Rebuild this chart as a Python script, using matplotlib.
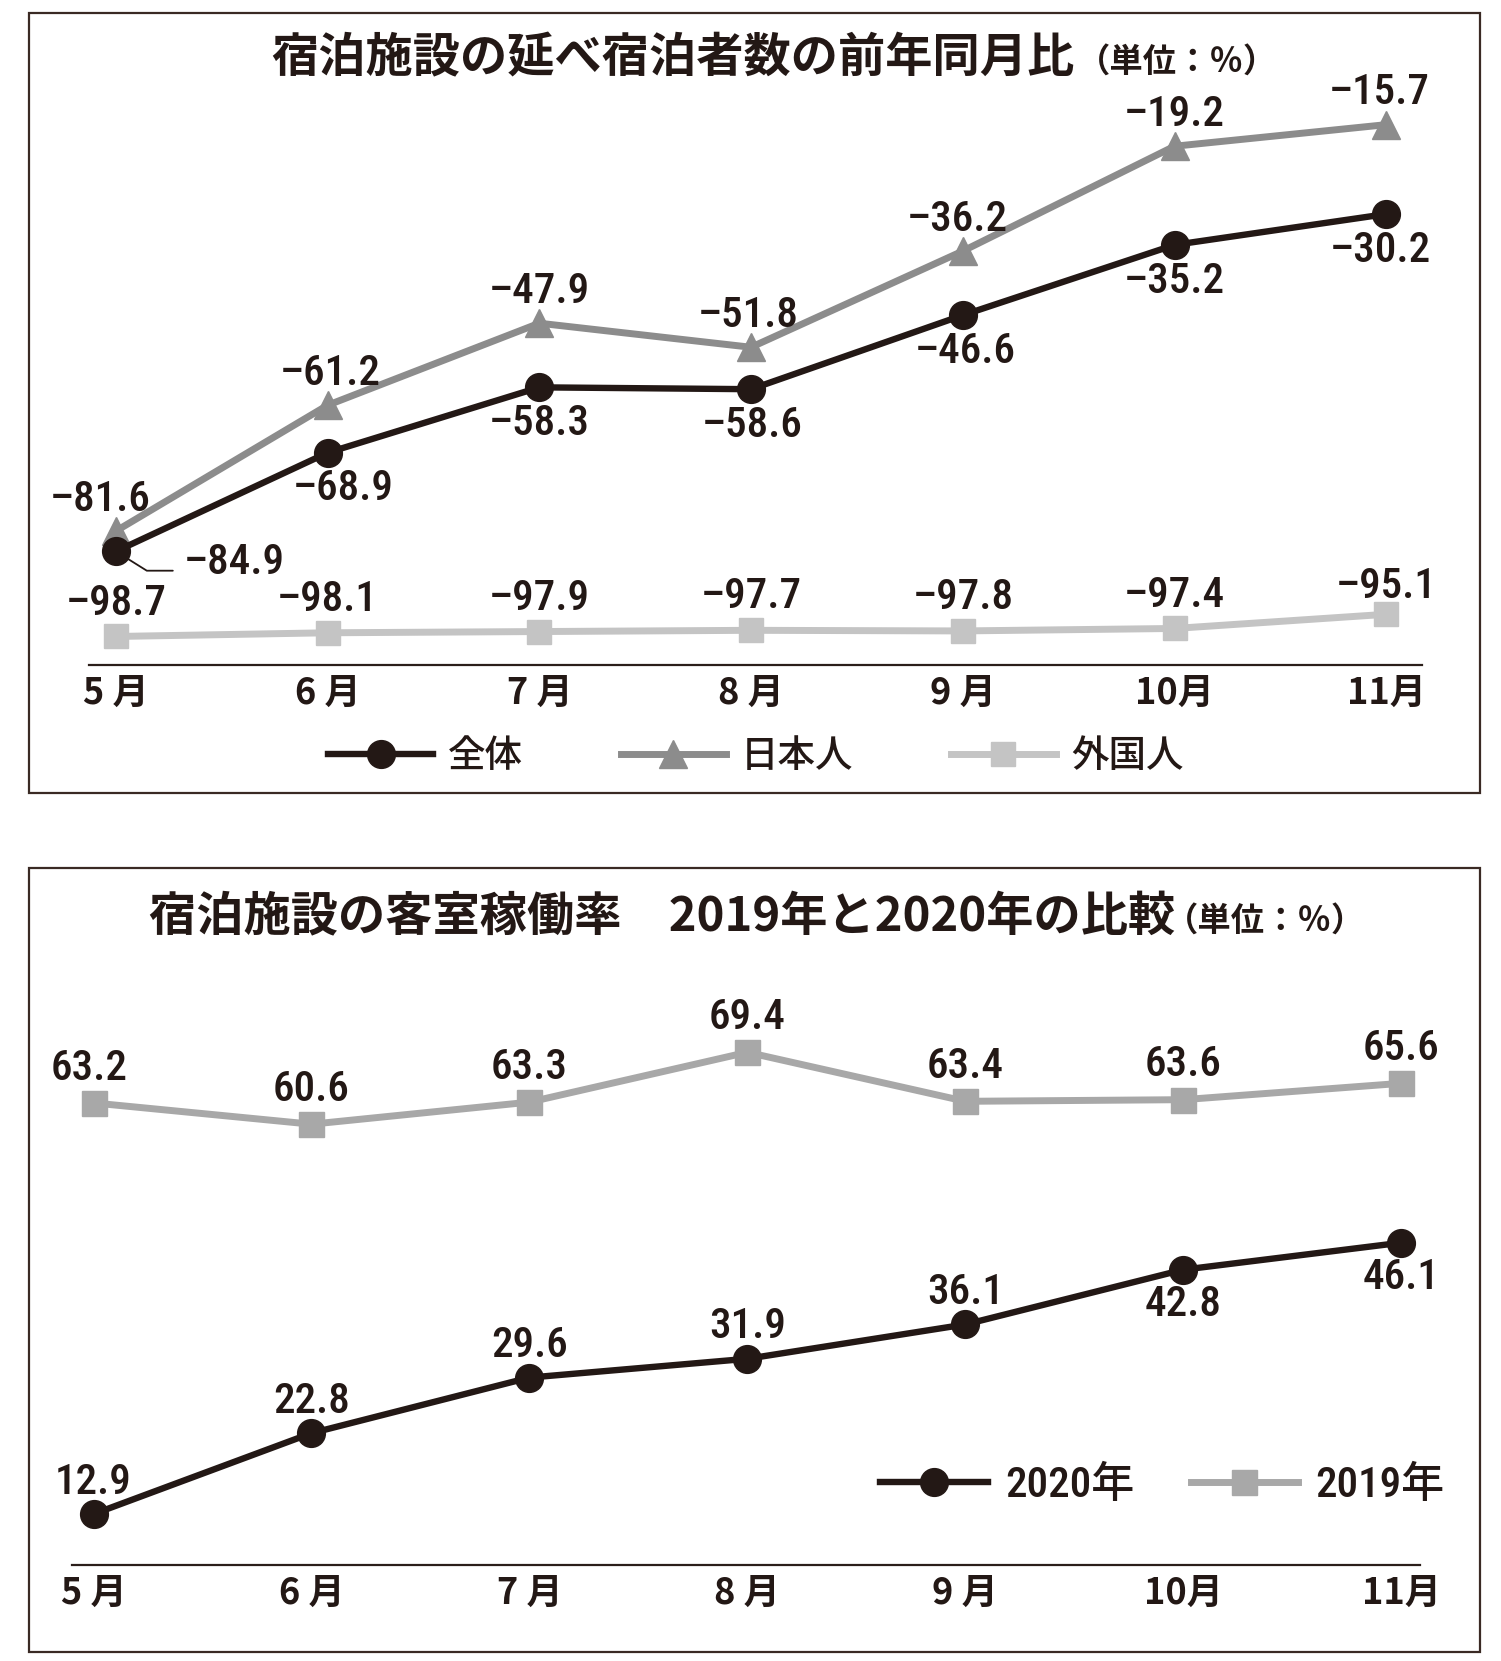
import matplotlib
matplotlib.use('Agg')
import matplotlib.pyplot as plt
from matplotlib.patches import Rectangle
from matplotlib import font_manager

months = ['5 月', '6 月', '7 月', '8 月', '9 月', '10月', '11月']

# 延べ宿泊者数の前年同月比 (%)
zentai = [-84.9, -68.9, -58.3, -58.6, -46.6, -35.2, -30.2]
nihonjin = [-81.6, -61.2, -47.9, -51.8, -36.2, -19.2, -15.7]
gaikokujin = [-98.7, -98.1, -97.9, -97.7, -97.8, -97.4, -95.1]

# 客室稼働率 (%)
occ_2020 = [12.9, 22.8, 29.6, 31.9, 36.1, 42.8, 46.1]
occ_2019 = [63.2, 60.6, 63.3, 69.4, 63.4, 63.6, 65.6]

ink = '#231815'
c_jp = '#8c8c8c'
c_fg = '#c4c4c4'
c_19 = '#a8a8a8'

# condensed face for the numbers, if one is around
names = {f.name for f in font_manager.fontManager.ttflist}
num_font, num_size = 'Liberation Sans', 28
for cand in ['Roboto Condensed', 'Archivo Narrow', 'Liberation Sans Narrow',
             'Asap Condensed', 'Barlow Semi Condensed']:
    if cand in names:
        num_font, num_size = cand, 31
        break
jp = 'Noto Sans CJK JP'
plt.rcParams['font.family'] = [jp, 'DejaVu Sans']
NUM = [num_font, 'DejaVu Sans']

W, H = 1410, 1560  # layout measured on the reference


def fx(x):
    return x / W


def fy(y):
    return 1 - y / H


fig = plt.figure(figsize=(15.01, 16.61), dpi=100)
fig.patch.set_facecolor('white')

# frames
for y0, y1 in [(12, 745), (815, 1552)]:
    fig.patches.append(Rectangle((fx(27), fy(y1)), fx(1390) - fx(27), fy(y0) - fy(y1),
                                 transform=fig.transFigure, fill=False,
                                 edgecolor='#3a2a24', linewidth=1.6))


def num(v):
    s = f'{abs(v):.1f}'
    return ('–' + s) if v < 0 else s


def label(ax, x, y, dx, dy):
    ax.annotate(num(y), (x, y), xytext=(dx, dy), textcoords='offset points',
                ha='center', va='center', fontsize=num_size, fontweight='medium',
                color=ink, family=NUM)


def style_axis(ax):
    for s in ['top', 'left', 'right']:
        ax.spines[s].set_visible(False)
    ax.spines['bottom'].set_color('#2b1e1a')
    ax.spines['bottom'].set_linewidth(1.6)
    ax.set_yticks([])
    ax.set_xticks(range(len(months)))
    ax.set_xticklabels(months, fontsize=26, fontweight='bold', color=ink)
    ax.tick_params(axis='x', length=0, pad=7)
    ax.patch.set_alpha(0)


# ---- top chart ----
ax1 = fig.add_axes([fx(84), fy(625), fx(1336) - fx(84), fy(80) - fy(625)])
x = range(len(months))
l_fg, = ax1.plot(x, gaikokujin, color=c_fg, lw=5, marker='s', ms=17, mec=c_fg, mfc=c_fg,
                 label='外国人')
l_jp, = ax1.plot(x, nihonjin, color=c_jp, lw=5, marker='^', ms=20, mec=c_jp, mfc=c_jp,
                 label='日本人')
l_all, = ax1.plot(x, zentai, color=ink, lw=4.6, marker='o', ms=20, mec=ink, mfc=ink,
                  label='全体')
ax1.set_xlim(-0.125, 6.17)
ax1.set_ylim(-103.4, -9.3)
style_axis(ax1)

jp_dx = [-11, 2, 0, -2, -4, 0, -5]
for i, v in enumerate(nihonjin):
    label(ax1, i, v, jp_dx[i], 23)
all_dx = [None, 11, 0, 1, 2, 0, -4]
for i, v in enumerate(zentai):
    if i == 0:
        ax1.annotate(num(v), (i, v), xytext=(49, -8), textcoords='offset points',
                     ha='left', va='center', fontsize=num_size, fontweight='medium',
                     color=ink, family=NUM,
                     arrowprops=dict(arrowstyle='-', color=ink, lw=1.3,
                                     connectionstyle='angle,angleA=0,angleB=-32,rad=0',
                                     relpos=(0, 0.3), shrinkA=6, shrinkB=8))
    else:
        label(ax1, i, v, all_dx[i], -26)
for i, v in enumerate(gaikokujin):
    label(ax1, i, v, 0, 20 if i == 6 else 24)

fig.legend(handles=[l_all, l_jp, l_fg], loc='center', bbox_to_anchor=(fx(710), fy(710)),
           ncol=3, frameon=False, handlelength=2.8, handletextpad=0.4,
           columnspacing=2.6, borderpad=0, labelcolor=ink,
           prop=dict(family=[jp], size=27, weight='medium'))

fig.text(fx(255), fy(55), '宿泊施設の延べ宿泊者数の前年同月比', fontsize=34,
         fontweight='bold', color=ink, ha='left', va='center')
fig.text(fx(1012), fy(58), '（単位：％）', fontsize=24, fontweight='bold',
         color=ink, ha='left', va='center')

# ---- bottom chart ----
ax2 = fig.add_axes([fx(68), fy(1470), fx(1334) - fx(68), fy(900) - fy(1470)])
l19, = ax2.plot(x, occ_2019, color=c_19, lw=5, marker='s', ms=18, mec=c_19, mfc=c_19,
                label='2019年')
l20, = ax2.plot(x, occ_2020, color=ink, lw=4.6, marker='o', ms=20, mec=ink, mfc=ink,
                label='2020年')
ax2.set_xlim(-0.097, 6.087)
ax2.set_ylim(6.65, 80.9)
style_axis(ax2)

for i, v in enumerate(occ_2019):
    label(ax2, i, v, -3 if i == 0 else 0, 25)
for i, v in enumerate(occ_2020):
    label(ax2, i, v, 0, -25 if i >= 5 else 23)

fig.legend(handles=[l20, l19], loc='center', bbox_to_anchor=(fx(1092), fy(1395)),
           ncol=2, frameon=False, handlelength=2.5, handletextpad=0.4,
           columnspacing=1.3, borderpad=0, labelcolor=ink,
           prop=dict(family=[num_font, jp], size=num_size, weight='medium'))

fig.text(fx(140), fy(862), '宿泊施設の客室稼働率　2019年と2020年の比較', fontsize=34,
         fontweight='bold', color=ink, ha='left', va='center')
fig.text(fx(1094), fy(865), '（単位：％）', fontsize=24, fontweight='bold',
         color=ink, ha='left', va='center')

fig.savefig('out.png', dpi=100, facecolor='white')
